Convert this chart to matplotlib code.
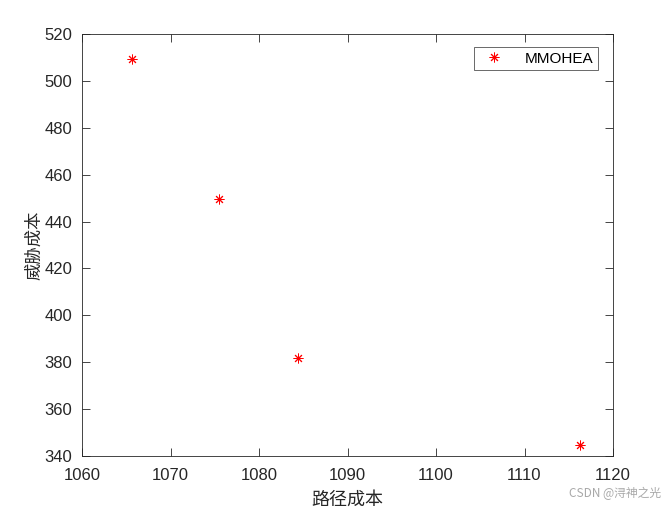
import matplotlib
matplotlib.use("Agg")
import matplotlib.pyplot as plt

plt.rcParams['font.family'] = ['Liberation Sans', 'Noto Sans CJK SC', 'DejaVu Sans']

# Pareto front: path cost vs threat cost
path_cost = [1065.6, 1075.5, 1084.4, 1116.3]
threat_cost = [509.4, 449.8, 381.9, 344.6]
series_label = 'MMOHEA'
x_ticks = [1060, 1070, 1080, 1090, 1100, 1110, 1120]
y_ticks = [340, 360, 380, 400, 420, 440, 460, 480, 500, 520]

fig = plt.figure(figsize=(6.66, 5.09), dpi=100)
ax = fig.add_axes([82 / 666, 1 - 456 / 509, 531 / 666, 422 / 509])

ax.plot(path_cost, threat_cost, linestyle='none', marker=(8, 2, 0), color='red',
        markersize=7, markeredgewidth=0.7, label=series_label)

ax.set_xlim(1060, 1120)
ax.set_ylim(340, 520)
ax.set_xticks(x_ticks)
ax.set_yticks(y_ticks)
ax.tick_params(direction='in', top=True, right=True, labelsize=12, colors='#262626',
               length=5.5, width=0.6)
ax.tick_params(axis='x', pad=9)
ax.tick_params(axis='y', pad=7)
for s in ax.spines.values():
    s.set_linewidth(0.6)
    s.set_color('#262626')

cjk = ['Noto Sans CJK SC', 'DejaVu Sans']
ax.set_xlabel('路径成本', fontsize=13, family=cjk, color='#262626', labelpad=5)
ax.set_ylabel('威胁成本', fontsize=12.5, family=cjk, color='#262626', labelpad=1)

leg = ax.legend(loc='upper right', bbox_to_anchor=(0.9718, 0.969), fontsize=11, frameon=True,
                fancybox=False, edgecolor='#262626', handlelength=2.0, borderpad=0.3,
                handletextpad=1.0, borderaxespad=0)
leg.get_frame().set_linewidth(0.6)

fig.text(0.992, 0.018, 'CSDN @浔神之光', ha='right', va='bottom', fontsize=8.5,
         color='#a8a8a8', family=cjk)

fig.savefig('out.png', dpi=100, facecolor='white')
